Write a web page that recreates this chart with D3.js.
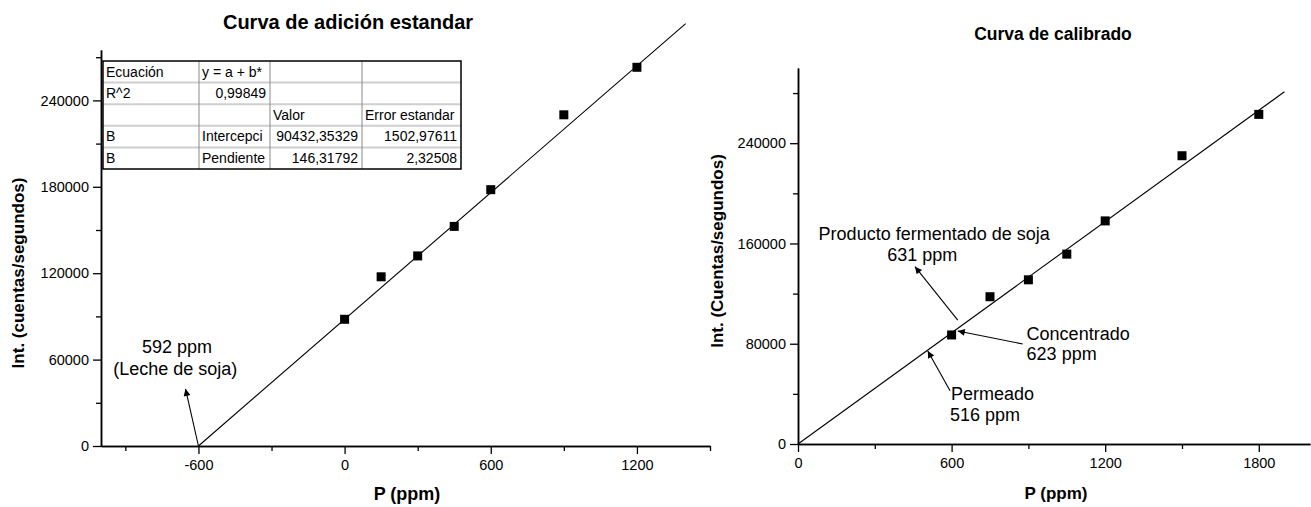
<!DOCTYPE html>
<html>
<head>
<meta charset="utf-8">
<script src="https://cdn.jsdelivr.net/npm/d3@7"></script>
<style>
  body { margin: 0; background: #fff; }
  svg { display: block; font-family: "Liberation Sans", Arial, sans-serif; }
</style>
</head>
<body>
<script>
// values
// standard addition curve (left)
const addX = [0, 150, 300, 450, 600, 900, 1200];
const addY = [88000, 117500, 132000, 152500, 178000, 230000, 263000];
const addFit = [[-600, 0], [1400, 293300]];

const addXTicks = [-600, 0, 600, 1200];
const addXMinor = [-900, -300, 300, 900, 1500];
const addYTicks = [0, 60000, 120000, 180000, 240000];
const addYMinor = [30000, 90000, 150000, 210000, 270000];

// calibration curve (right)
const calX = [600, 750, 900, 1050, 1200, 1500, 1800];
const calY = [87000, 117500, 131000, 151500, 178000, 230000, 263000];
const calFit = [[0, 0], [1900, 281000]];

const calXTicks = [0, 600, 1200, 1800];
const calXMinor = [300, 900, 1500];
const calYTicks = [0, 80000, 160000, 240000];
const calYMinor = [40000, 120000, 200000, 280000];

// fit results table
const fitTable = [
  ["Ecuación", "y = a + b*", "", ""],
  ["R^2", "0,99849", "", ""],
  ["", "", "Valor", "Error estandar"],
  ["B", "Intercepci", "90432,35329", "1502,97611"],
  ["B", "Pendiente", "146,31792", "2,32508"]
];

// annotations (data coordinates)
const addNotes = [
  {text: "592 ppm", x: -688, y: 64500, anchor: "middle"},
  {text: "(Leche de soja)", x: -695, y: 49100, anchor: "middle"}
];
const addArrows = [{from: [-600, 0], to: [-653, 39600]}];

const calNotes = [
  {text: "Producto fermentado de soja", x: 532, y: 163100, anchor: "middle"},
  {text: "631 ppm", x: 485, y: 145800, anchor: "middle"},
  {text: "Concentrado", x: 893, y: 83300, anchor: "start"},
  {text: "623 ppm", x: 893, y: 66800, anchor: "start"},
  {text: "Permeado", x: 598, y: 34900, anchor: "start"},
  {text: "516 ppm", x: 594, y: 18100, anchor: "start"}
];
const calArrows = [
  {from: [624, 98900], to: [457, 141500]},
  {from: [878, 79800], to: [624, 90200]},
  {from: [594, 42500], to: [507, 74200]}
];

let svg = d3.select("body").append("svg")
    .attr("width", 1311)
    .attr("height", 507);

svg.append("rect")
    .attr("width", 1311)
    .attr("height", 507)
    .attr("fill", "#fff");

svg.append("defs").append("marker")
    .attr("id", "head")
    .attr("viewBox", "0 0 10 10")
    .attr("refX", 10)
    .attr("refY", 5)
    .attr("markerUnits", "userSpaceOnUse")
    .attr("markerWidth", 9)
    .attr("markerHeight", 7)
    .attr("orient", "auto")
    .append("path")
    .attr("d", "M0,0L10,5L0,10z")
    .attr("fill", "#000");

//--------------------------------
// LEFT CHART
//--------------------------------
let xL = d3.scaleLinear().domain([-1000, 1500]).range([101, 710]);
let yL = d3.scaleLinear().domain([0, 275000]).range([446, 50]);

drawAxes(xL, yL, addXTicks, addXMinor, addYTicks, addYMinor);
drawFit(xL, yL, addFit);
drawPoints(xL, yL, addX, addY);
drawNotes(xL, yL, addNotes, addArrows);
drawTable(fitTable, [103, 199, 270, 362, 461], 61, 21.6);

svg.append("text")
    .attr("x", 348).attr("y", 29)
    .attr("text-anchor", "middle")
    .attr("font-size", 20).attr("font-weight", "bold")
    .text("Curva de adición estandar");

svg.append("text")
    .attr("x", 407).attr("y", 500)
    .attr("text-anchor", "middle")
    .attr("font-size", 18).attr("font-weight", "bold")
    .text("P (ppm)");

svg.append("text")
    .attr("transform", "translate(24,273) rotate(-90)")
    .attr("text-anchor", "middle")
    .attr("font-size", 17).attr("font-weight", "bold")
    .text("Int. (cuentas/segundos)");

//--------------------------------
// RIGHT CHART
//--------------------------------
let xR = d3.scaleLinear().domain([0, 2000]).range([798, 1310]);
let yR = d3.scaleLinear().domain([0, 300000]).range([444, 68]);

drawAxes(xR, yR, calXTicks, calXMinor, calYTicks, calYMinor);
drawFit(xR, yR, calFit);
drawPoints(xR, yR, calX, calY);
drawNotes(xR, yR, calNotes, calArrows);

svg.append("text")
    .attr("x", 1053).attr("y", 40)
    .attr("text-anchor", "middle")
    .attr("font-size", 17.5).attr("font-weight", "bold")
    .text("Curva de calibrado");

svg.append("text")
    .attr("x", 1056).attr("y", 499)
    .attr("text-anchor", "middle")
    .attr("font-size", 17).attr("font-weight", "bold")
    .text("P (ppm)");

svg.append("text")
    .attr("transform", "translate(723,251) rotate(-90)")
    .attr("text-anchor", "middle")
    .attr("font-size", 17).attr("font-weight", "bold")
    .text("Int. (Cuentas/segundos)");

//--------------------------------
// HELPER FUNCTIONS
//--------------------------------
function drawAxes(x, y, xt, xm, yt, ym) {
  let x0 = x.range()[0], y0 = y.range()[0];
  let fmt = d => String(d); // plain hyphen for negatives, like the original

  // minor ticks first, majors on top
  svg.append("g")
      .attr("transform", "translate(0," + y0 + ")")
      .call(d3.axisBottom(x).tickValues(xm).tickSize(5).tickSizeOuter(0).tickFormat(""))
      .call(styleAxis);
  svg.append("g")
      .attr("transform", "translate(" + x0 + ",0)")
      .call(d3.axisLeft(y).tickValues(ym).tickSize(5).tickSizeOuter(0).tickFormat(""))
      .call(styleAxis);

  svg.append("g")
      .attr("transform", "translate(0," + y0 + ")")
      .call(d3.axisBottom(x).tickValues(xt).tickSize(8).tickPadding(6).tickSizeOuter(0).tickFormat(fmt))
      .call(styleAxis);
  svg.append("g")
      .attr("transform", "translate(" + x0 + ",0)")
      .call(d3.axisLeft(y).tickValues(yt).tickSize(8).tickPadding(4).tickSizeOuter(0).tickFormat(fmt))
      .call(styleAxis);
}

function styleAxis(g) {
  g.attr("font-family", null).attr("font-size", 14.5);
  g.selectAll("line").attr("stroke", "#000").attr("stroke-width", 1.3);
  g.select(".domain").attr("stroke", "#000").attr("stroke-width", 1.5);
  g.selectAll("text").attr("fill", "#000");
}

function drawFit(x, y, pts) {
  svg.append("path")
      .datum(pts)
      .attr("fill", "none")
      .attr("stroke", "#000")
      .attr("stroke-width", 1.1)
      .attr("d", d3.line().x(d => x(d[0])).y(d => y(d[1])));
}

function drawPoints(x, y, xs, ys) {
  let s = 9;
  svg.append("g").selectAll("rect")
      .data(xs.map((v, i) => [v, ys[i]]))
      .join("rect")
      .attr("x", d => x(d[0]) - s / 2)
      .attr("y", d => y(d[1]) - s / 2)
      .attr("width", s)
      .attr("height", s)
      .attr("fill", "#000");
}

function drawNotes(x, y, notes, arrows) {
  svg.append("g").selectAll("line")
      .data(arrows)
      .join("line")
      .attr("x1", d => x(d.from[0])).attr("y1", d => y(d.from[1]))
      .attr("x2", d => x(d.to[0])).attr("y2", d => y(d.to[1]))
      .attr("stroke", "#000")
      .attr("stroke-width", 1.1)
      .attr("marker-end", "url(#head)");

  svg.append("g").selectAll("text")
      .data(notes)
      .join("text")
      .attr("x", d => x(d.x))
      .attr("y", d => y(d.y))
      .attr("text-anchor", d => d.anchor)
      .attr("font-size", 18)
      .text(d => d.text);
}

function drawTable(rows, cols, top, rh) {
  let g = svg.append("g");
  let bottom = top + rh * rows.length;

  // inner grid
  for (let i = 1; i < rows.length; i++) {
    g.append("line")
        .attr("x1", cols[0]).attr("x2", cols[cols.length - 1])
        .attr("y1", top + rh * i).attr("y2", top + rh * i)
        .attr("stroke", "#cfcfcf").attr("stroke-width", 2);
  }
  for (let j = 1; j < cols.length - 1; j++) {
    g.append("line")
        .attr("x1", cols[j]).attr("x2", cols[j])
        .attr("y1", top).attr("y2", bottom)
        .attr("stroke", "#8a8a8a").attr("stroke-width", 1);
  }
  g.append("rect")
      .attr("x", cols[0]).attr("y", top)
      .attr("width", cols[cols.length - 1] - cols[0])
      .attr("height", bottom - top)
      .attr("fill", "none")
      .attr("stroke", "#000")
      .attr("stroke-width", 1.5);

  rows.forEach((row, i) => {
    row.forEach((cell, j) => {
      if (!cell) return;
      let num = /^[\d,]+$/.test(cell);
      g.append("text")
          .attr("x", num ? cols[j + 1] - 4 : cols[j] + 3)
          .attr("y", top + rh * i + 15.5)
          .attr("text-anchor", num ? "end" : "start")
          .attr("font-size", 14)
          .text(cell);
    });
  });
}
</script>
</body>
</html>
